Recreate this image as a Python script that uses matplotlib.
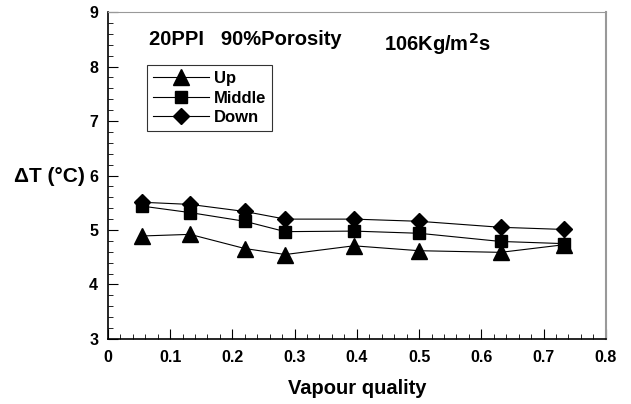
import matplotlib
matplotlib.use("Agg")
import matplotlib.pyplot as plt
from matplotlib.ticker import MultipleLocator

plt.rcParams['font.family'] = ['Liberation Sans', 'DejaVu Sans']
plt.rcParams['font.weight'] = 'bold'

# vapour quality and temperature difference for the three positions
quality = [0.054, 0.132, 0.22, 0.285, 0.395, 0.50, 0.631, 0.733]
dt_up = [4.89, 4.92, 4.66, 4.55, 4.71, 4.62, 4.59, 4.73]
dt_middle = [5.44, 5.32, 5.16, 4.97, 4.98, 4.94, 4.79, 4.75]
dt_down = [5.51, 5.47, 5.34, 5.20, 5.20, 5.16, 5.05, 5.01]

x_ticks = [0, 0.1, 0.2, 0.3, 0.4, 0.5, 0.6, 0.7, 0.8]
x_labels = ['0', '0.1', '0.2', '0.3', '0.4', '0.5', '0.6', '0.7', '0.8']
y_ticks = [3, 4, 5, 6, 7, 8, 9]

fig = plt.figure(figsize=(6.31, 4.04), dpi=100)
ax = fig.add_axes([0.171, 0.161, 0.789, 0.809])

ax.plot(quality, dt_up, color='black', lw=0.8, marker='^', ms=11, label='Up')
ax.plot(quality, dt_middle, color='black', lw=0.8, marker='s', ms=9, label='Middle')
ax.plot(quality, dt_down, color='black', lw=0.8, marker='D', ms=8.5, label='Down')

ax.set_xlim(0, 0.8)
ax.set_ylim(3, 9)
ax.set_xticks(x_ticks)
ax.set_xticklabels(x_labels)
ax.set_yticks(y_ticks)
ax.xaxis.set_minor_locator(MultipleLocator(0.02))
ax.yaxis.set_minor_locator(MultipleLocator(0.2))
ax.tick_params(which='major', direction='in', length=7, width=0.8, labelsize=11.5)
ax.tick_params(which='minor', direction='in', length=3.5, width=0.6)
ax.tick_params(axis='x', which='major', pad=8)
ax.tick_params(axis='y', which='major', pad=7)

ax.spines['left'].set_linewidth(1.2)
ax.spines['bottom'].set_linewidth(1.2)
ax.spines['top'].set_color('#999999')
ax.spines['right'].set_color('#999999')
ax.spines['right'].set_linewidth(1.5)

ax.set_xlabel('Vapour quality', fontsize=14.5, fontweight='bold', labelpad=10)
fig.text(0.022, 0.562, '\u0394T (\u00b0C)', fontsize=15, fontweight='bold', va='center', ha='left')

ax.text(0.066, 8.5, '20PPI   90%Porosity', fontsize=14.5, fontweight='bold', va='center')
ax.text(0.444, 8.42, '106Kg/m$\\mathbf{^2}$s', fontsize=14.5, fontweight='bold', va='center')

leg = ax.legend(loc='upper left', bbox_to_anchor=(0.078, 0.838), frameon=True, fancybox=False,
                edgecolor='black', fontsize=12, handlelength=3.4, handletextpad=0.3,
                borderpad=0.35, labelspacing=0.28, borderaxespad=0)
leg.get_frame().set_linewidth(0.8)

fig.savefig('out.png', dpi=100)
